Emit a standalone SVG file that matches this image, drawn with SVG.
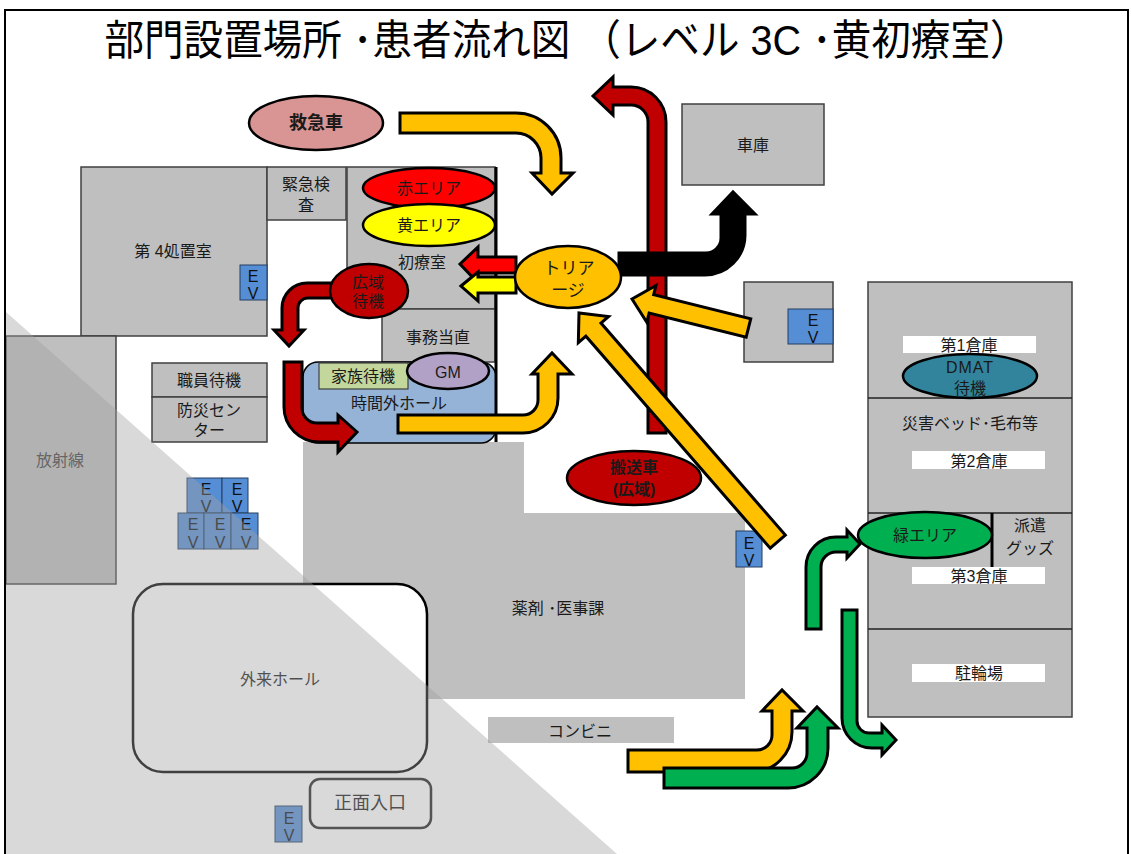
<svg xmlns="http://www.w3.org/2000/svg" width="1131" height="854" viewBox="0 0 1131 854">
<style>
.room{fill:#BFBFBF;stroke:#404040;stroke-width:1.5}
.flat{fill:#BFBFBF}
.t{font-family:"Liberation Sans","Noto Sans CJK JP",sans-serif;font-size:16px;fill:#1a1a1a;text-anchor:middle;dominant-baseline:central}
.b{font-weight:bold}
.ev{fill:#558ED5;stroke:#243F60;stroke-width:1}
.evt{font-family:"Liberation Sans","Noto Sans CJK JP",sans-serif;font-size:16px;fill:#111;text-anchor:middle;dominant-baseline:central}
.ar{stroke:#000;stroke-width:3;stroke-linejoin:miter}
.el{stroke:#000;stroke-width:2.5}
.lbl{fill:#fff}
.y{fill:#FFC000}.r{fill:#C00000}.g{fill:#00B050}
</style>
<rect width="1131" height="854" fill="#fff"/>
<text x="567" y="40" class="t" style="font-size:42px;fill:#000" textLength="925" lengthAdjust="spacingAndGlyphs">部門設置場所 ･患者流れ図 （レベル 3C ･黄初療室）</text>

<g id="yakuzai"><polygon class="flat" points="303,442 524,442 524,513 745,513 745,699 303,699"/><text class="t" x="558" y="608">薬剤 ･医事課</text></g>
<g id="ev-yakuzai"><rect class="ev" x="736" y="531" width="26" height="36"/><text class="evt" x="749" y="543">E</text><text class="evt" x="749" y="560">V</text></g>
<g id="konbini"><rect class="flat" x="488" y="717" width="186" height="26"/><text class="t" x="580" y="731">コンビニ</text></g>

<g id="shochi4"><rect class="room" x="81" y="167" width="186" height="169"/><text class="t" x="173" y="251">第 4処置室</text></g>
<g id="ev-shochi4"><rect class="ev" x="240" y="265" width="27" height="35"/><text class="evt" x="253" y="276">E</text><text class="evt" x="253" y="293">V</text></g>
<g id="kinkyu"><rect class="room" x="267" y="167" width="79" height="53"/><text class="t" x="306" y="184">緊急検</text><text class="t" x="306" y="205">査</text></g>
<g id="shoryo"><rect class="room" x="347" y="167" width="148" height="142"/><text class="t" x="422" y="262">初療室</text></g>
<g id="jimu"><rect class="room" x="382" y="309" width="113" height="53"/><text class="t" x="438" y="337">事務当直</text></g>
<g id="jikangai"><rect x="303" y="362" width="193" height="81" rx="15" fill="#95B3D7" stroke="#000" stroke-width="1.5"/><text class="t" x="399" y="403">時間外ホール</text></g>
<g id="kazoku"><rect x="319" y="363" width="89" height="26" fill="#C3D69B" stroke="#404040" stroke-width="1.2"/><text class="t" x="363" y="376">家族待機</text></g>
<g id="gm"><ellipse class="el" cx="448" cy="371" rx="41" ry="18" fill="#B2A1C7"/><text class="t" x="448" y="372">GM</text></g>
<line x1="496" y1="167" x2="496" y2="442" stroke="#000" stroke-width="3"/>

<g id="aka"><ellipse class="el" cx="429" cy="188" rx="66" ry="20" fill="#FF0000"/><text class="t" x="429" y="188">赤エリア</text></g>
<g id="ki"><ellipse class="el" cx="429" cy="225" rx="66" ry="21" fill="#FFFF00"/><text class="t" x="429" y="225">黄エリア</text></g>

<g id="shokuin"><rect class="room" x="152" y="363" width="115" height="34"/><text class="t" x="209" y="380">職員待機</text></g>
<g id="bousai"><rect class="room" x="152" y="397" width="115" height="45"/><text class="t" x="209" y="410">防災セン</text><text class="t" x="209" y="430">ター</text></g>
<g id="hoshasen"><rect class="room" x="6" y="336" width="110" height="248"/><text class="t" x="60" y="460" style="fill:#404040">放射線</text></g>

<g id="ev-cluster">
<rect class="ev" x="187" y="478" width="35" height="35"/><text class="evt" x="206" y="489">E</text><text class="evt" x="206" y="506">V</text>
<rect class="ev" x="222" y="478" width="26" height="35"/><text class="evt" x="237" y="489">E</text><text class="evt" x="237" y="506">V</text>
<rect class="ev" x="178" y="513" width="26" height="36"/><text class="evt" x="193" y="524">E</text><text class="evt" x="193" y="542">V</text>
<rect class="ev" x="204" y="513" width="27" height="36"/><text class="evt" x="220" y="524">E</text><text class="evt" x="220" y="542">V</text>
<rect class="ev" x="231" y="513" width="27" height="36"/><text class="evt" x="246" y="524">E</text><text class="evt" x="246" y="542">V</text>
</g>

<g id="gairai"><rect x="133" y="584" width="294" height="188" rx="30" fill="#fff" stroke="#000" stroke-width="2.5"/><text class="t" x="280" y="679">外来ホール</text></g>
<g id="shomen"><rect x="310" y="779" width="121" height="49" rx="10" fill="#fff" stroke="#222" stroke-width="2.5"/><text class="t" x="370" y="803" style="font-size:18px">正面入口</text></g>
<g id="ev-shomen"><rect class="ev" x="275" y="806" width="27" height="36"/><text class="evt" x="289" y="818">E</text><text class="evt" x="289" y="835">V</text></g>

<g id="shako"><rect class="room" x="682" y="104" width="142" height="81"/><text class="t" x="753" y="145">車庫</text></g>
<g id="ev-box"><rect class="room" x="744" y="282" width="89" height="80"/><rect class="ev" x="788" y="309" width="45" height="35"/><text class="evt" x="813" y="320">E</text><text class="evt" x="813" y="337">V</text></g>

<g id="soko">
<rect class="room" x="868" y="282" width="204" height="435"/>
<line x1="868" y1="398" x2="1072" y2="398" stroke="#222" stroke-width="1.5"/>
<line x1="868" y1="513" x2="1072" y2="513" stroke="#222" stroke-width="1.5"/>
<line x1="868" y1="629" x2="1072" y2="629" stroke="#222" stroke-width="1.5"/>
<rect class="lbl" x="903" y="336" width="133" height="17"/><text class="t" x="969" y="345">第1倉庫</text>
<text class="t" x="970" y="423">災害ベッド･毛布等</text>
<rect class="lbl" x="912" y="451" width="133" height="18"/><text class="t" x="979" y="461">第2倉庫</text>
<rect class="lbl" x="912" y="567" width="133" height="17"/><text class="t" x="979" y="576">第3倉庫</text>
<rect class="lbl" x="912" y="664" width="133" height="18"/><text class="t" x="979" y="673">駐輪場</text>
<line x1="992" y1="513" x2="992" y2="567" stroke="#000" stroke-width="3"/>
<text class="t" x="1030" y="525">派遣</text><text class="t" x="1030" y="548">グッズ</text>
</g>
<g id="dmat"><ellipse class="el" cx="970" cy="376" rx="67" ry="22" fill="#31849B"/><text class="t" x="970" y="367" style="letter-spacing:1px">DMAT</text><text class="t" x="970" y="388">待機</text></g>

<g id="connectors">
<path class="ar y" d="M400,113 H516 A45,45 0 0 1 561,158 V173 H573 L552,194 L532,173 H541 V158 A25,25 0 0 0 516,133 H400 Z"/>
<path class="ar r" d="M648,433 V122 A17,17 0 0 0 631,105 H613 V115 L593,96 L613,77 V87 H631 A35,35 0 0 1 666,122 V433 Z"/>
<path class="ar" fill="#000" d="M619,253 H706 A15,15 0 0 0 721,238 V214 H712 L733,192 L755,214 H745 V235 A40,40 0 0 1 705,275 H619 Z"/>
<polygon class="ar y" points="0,0 -20,-19 -20,-9.5 -120,-9.5 -120,9.5 -20,9.5 -20,19" transform="translate(632,299) rotate(194)"/>
<polygon class="ar y" points="0,0 -22,-20 -22,-10 -303,-10 -303,10 -22,10 -22,20" transform="translate(579,313) rotate(229)"/>
<polygon class="ar" fill="#FF0000" points="460,264 478,247 478,257 516,257 516,273 478,273 478,283"/>
<polygon class="ar" fill="#FFFF00" points="461,286 478,272 478,277 516,277 516,293 478,293 478,301"/>
<path class="ar r" d="M333,283 H307 A25,25 0 0 0 282,308 V330 H274 L289,346 L304,330 H298 V308 A10,10 0 0 1 308,298 H333 Z"/>
<path class="ar r" d="M284,362 H302 V408 A15,15 0 0 0 317,423 H338 V415 L357,432 L338,452 V442 H319 A35,35 0 0 1 284,407 Z"/>
<path class="ar y" d="M398,415 H523 A15,15 0 0 0 538,400 V374 H532 L552,353 L572,374 H558 V398 A35,35 0 0 1 523,433 H398 Z"/>
<path class="ar y" d="M628,750 H757 A15,15 0 0 0 772,735 V711 H762 L782,690 L803,711 H792 V732 A40,40 0 0 1 752,772 H628 Z"/>
<path class="ar g" d="M664,768 H792 A15,15 0 0 0 807,753 V728 H797 L817,707 L838,728 H828 V748 A40,40 0 0 1 788,788 H664 Z"/>
<path class="ar g" d="M806,629 V567 A30,30 0 0 1 836,537 H847 V530 L860,544 L847,558 V552 H836 A15,15 0 0 0 821,567 V629 Z"/>
<path class="ar g" d="M842,610 H857 V721 A12,12 0 0 0 869,733 H882 V725 L896,740 L882,755 V748 H872 A30,30 0 0 1 842,718 Z"/>
</g>

<g id="kyukyusha"><ellipse class="el" cx="316" cy="123" rx="67" ry="27" fill="#D99594"/><text class="t b" x="316" y="123" style="font-size:18px">救急車</text></g>
<g id="triage"><ellipse class="el" cx="568" cy="277" rx="53" ry="31" fill="#FFC000"/><text class="t" x="569" y="268" style="font-size:17px">トリア</text><text class="t" x="568" y="290" style="font-size:17px">ージ</text></g>
<g id="koiki"><ellipse class="el" cx="369" cy="291" rx="39" ry="27" fill="#C00000"/><text class="t" x="368" y="282">広域</text><text class="t" x="368" y="301">待機</text></g>
<g id="hansosha"><ellipse class="el" cx="634" cy="478" rx="67" ry="27" fill="#C00000"/><text class="t b" x="634" y="467">搬送車</text><text class="t b" x="634" y="489">(広域)</text></g>
<g id="midori"><ellipse class="el" cx="925" cy="535" rx="67" ry="23" fill="#00B050"/><text class="t" x="925" y="535">緑エリア</text></g>

<polygon points="6,312 617,854 6,854" fill="#A0A0A0" fill-opacity="0.4"/>
<path d="M5,854 V10 H1128 V854" fill="none" stroke="#000" stroke-width="2"/>
</svg>
